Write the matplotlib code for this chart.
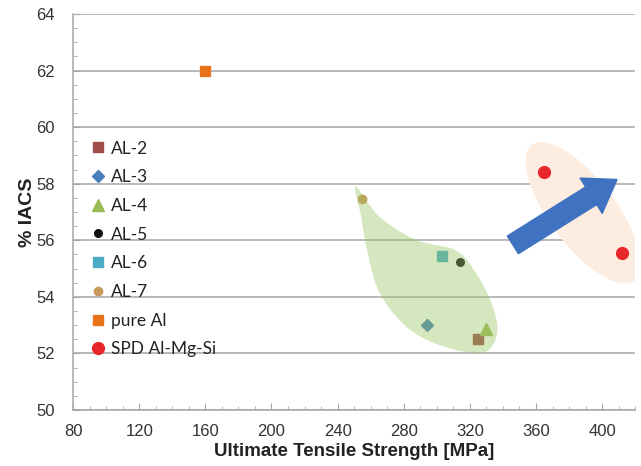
import numpy as np
import matplotlib
matplotlib.use("Agg")
import matplotlib.pyplot as plt

# series data (UTS [MPa], conductivity [%IACS])
names = ['AL-2', 'AL-3', 'AL-4', 'AL-5', 'AL-6', 'AL-7', 'pure Al', 'SPD Al-Mg-Si']
uts = [[325], [294], [330], [314], [303], [255], [160], [365, 412]]
iacs = [[52.5], [53.0], [52.85], [55.25], [55.45], [57.45], [62.0], [58.4, 55.55]]
markers = ['s', 'D', '^', 'o', 's', 'o', 's', 'o']
colors = ['#a04c4a', '#4a7ebb', '#9bbb59', '#111111', '#4bacc6', '#c99a5c', '#e8731a', '#e8262a']
sizes = [7, 6, 8, 5.5, 7, 6, 7, 8.5]

# highlighted region around the conventional alloys (outline, data coords)
region_x = [250.9, 254.0, 258.0, 265.4, 281.7, 301.6, 327.6, 336.5, 333.0, 322.5, 311.0, 287.7, 265.4]
region_y = [57.9, 56.9, 55.6, 54.14, 52.94, 52.3, 52.02, 52.73, 53.79, 54.95, 55.66, 56.01, 56.83]

# trend arrow (tail, tip)
arrow_tail = (346, 55.84)
arrow_tip = (409, 58.15)


def smooth_closed(x, y, n=20):
    # closed catmull-rom through the outline points
    p = np.column_stack([x, y])
    m = len(p)
    out = []
    for i in range(m):
        p0, p1, p2, p3 = p[i - 1], p[i], p[(i + 1) % m], p[(i + 2) % m]
        for s in np.linspace(0, 1, n, endpoint=False):
            out.append(0.5 * (2 * p1 + (-p0 + p2) * s + (2 * p0 - 5 * p1 + 4 * p2 - p3) * s ** 2
                              + (-p0 + 3 * p1 - 3 * p2 + p3) * s ** 3))
    out = np.array(out)
    return out[:, 0], out[:, 1]


fig = plt.figure(figsize=(6.41, 4.66), dpi=100)
ax = fig.add_axes([0.114, 0.12, 0.877, 0.85])

ax.set_xlim(80, 420)
ax.set_ylim(50, 64)
ax.set_xticks(np.arange(80, 401, 40))
ax.set_yticks(np.arange(50, 65, 2))
ax.set_xticks(np.arange(80, 421, 10), minor=True)
ax.set_yticks(np.arange(50, 64.1, 0.5), minor=True)
ax.grid(axis='y', color='#a6a6a6', lw=1.1, zorder=0)
ax.set_axisbelow(True)
for s in ['top', 'right']:
    ax.spines[s].set_visible(False)
for s in ['left', 'bottom']:
    ax.spines[s].set_color('#a6a6a6')
    ax.spines[s].set_linewidth(1.1)
ax.tick_params(which='both', direction='in', color='#a6a6a6', labelsize=12,
               labelcolor='#333333')
ax.tick_params(which='major', length=5)
ax.tick_params(axis='x', which='major', pad=10)
ax.tick_params(axis='y', which='major', pad=13)
ax.tick_params(which='minor', length=3)
for lab in ax.get_xticklabels() + ax.get_yticklabels():
    lab.set_fontfamily('Liberation Sans')

# light ellipse around SPD points, built in pixel units then scaled to data
cx = np.mean(uts[-1])
cy = np.mean(iacs[-1])
t = np.linspace(0, 2 * np.pi, 200)
a, b, ang = 85, 33, np.deg2rad(-53)
px = a * np.cos(t) * np.cos(ang) - b * np.sin(t) * np.sin(ang)
py = a * np.cos(t) * np.sin(ang) + b * np.sin(t) * np.cos(ang)
ax.fill(cx + px / 1.656, cy + py / 28.3, color='#fdede0', lw=0, zorder=1)

for n, x, y, m, c, sz in zip(names, uts, iacs, markers, colors, sizes):
    ax.plot(x, y, ls='none', marker=m, color=c, ms=sz, mec=c, label=n, zorder=3)

gx, gy = smooth_closed(region_x, region_y)
ax.fill(gx, gy, color='#96c55f', alpha=0.4, lw=0, zorder=4)

ax.annotate('', xy=arrow_tip, xytext=arrow_tail,
            arrowprops=dict(arrowstyle='simple,head_width=1.5,head_length=1.1,tail_width=0.75',
                            color='#3f72c1', shrinkA=0, shrinkB=0, mutation_scale=20),
            zorder=5)

ax.set_xlabel('Ultimate Tensile Strength [MPa]', fontsize=13.5, fontweight='bold',
              family='Liberation Sans', color='#222222', labelpad=3)
ax.set_ylabel('% IACS', fontsize=14, fontweight='bold', family='Liberation Sans',
              color='#222222', labelpad=0)

leg = ax.legend(loc='upper left', bbox_to_anchor=(0.02, 0.698), frameon=False,
                handlelength=0.8, handletextpad=0.35, labelspacing=0.73,
                borderaxespad=0, prop={'family': 'Lato', 'size': 12.5})
for txt in leg.get_texts():
    txt.set_color('#222222')

fig.savefig('out.png', dpi=100)
